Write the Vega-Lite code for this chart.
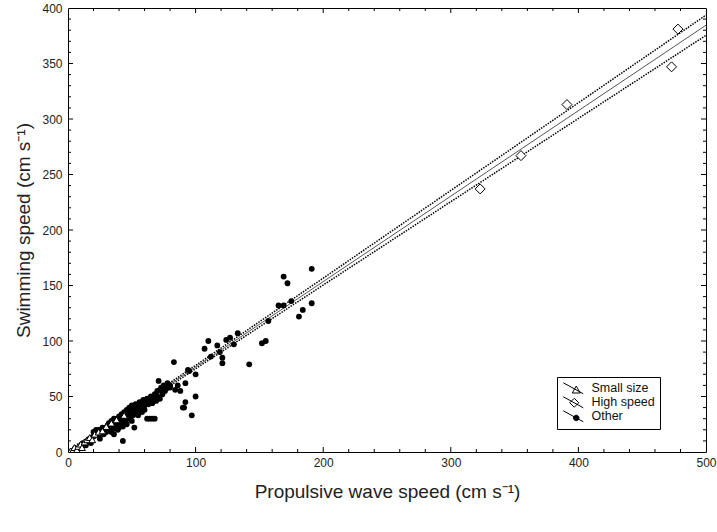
{
  "$schema": "https://vega.github.io/schema/vega-lite/v6.json",
  "width": 638,
  "height": 444,
  "autosize": {"type": "none"},
  "padding": {"left": 68, "top": 8, "right": 11, "bottom": 80},
  "background": "white",
  "config": {
    "view": {"stroke": "black", "strokeWidth": 1},
    "font": "Liberation Sans",
    "tick": {"opacity": 1},
    "axis": {"domain": false, "ticks": false, "grid": false, "labelFont": "Liberation Sans", "titleFont": "Liberation Sans", "labelColor": "#222", "titleColor": "#222", "titleFontWeight": "normal", "labelFontSize": 12, "titleFontSize": 19, "labelFlush": false, "labelOverlap": false}
  },
  "datasets": {
    "ticks": [
      {"ax": "x", "k": "major", "v": 100}, {"ax": "x", "k": "major", "v": 200}, {"ax": "x", "k": "major", "v": 300}, {"ax": "x", "k": "major", "v": 400},
      {"ax": "x", "k": "minor", "v": 20}, {"ax": "x", "k": "minor", "v": 40}, {"ax": "x", "k": "minor", "v": 60}, {"ax": "x", "k": "minor", "v": 80},
      {"ax": "x", "k": "minor", "v": 120}, {"ax": "x", "k": "minor", "v": 140}, {"ax": "x", "k": "minor", "v": 160}, {"ax": "x", "k": "minor", "v": 180},
      {"ax": "x", "k": "minor", "v": 220}, {"ax": "x", "k": "minor", "v": 240}, {"ax": "x", "k": "minor", "v": 260}, {"ax": "x", "k": "minor", "v": 280},
      {"ax": "x", "k": "minor", "v": 320}, {"ax": "x", "k": "minor", "v": 340}, {"ax": "x", "k": "minor", "v": 360}, {"ax": "x", "k": "minor", "v": 380},
      {"ax": "x", "k": "minor", "v": 420}, {"ax": "x", "k": "minor", "v": 440}, {"ax": "x", "k": "minor", "v": 460}, {"ax": "x", "k": "minor", "v": 480},
      {"ax": "y", "k": "major", "v": 50}, {"ax": "y", "k": "major", "v": 100}, {"ax": "y", "k": "major", "v": 150}, {"ax": "y", "k": "major", "v": 200},
      {"ax": "y", "k": "major", "v": 250}, {"ax": "y", "k": "major", "v": 300}, {"ax": "y", "k": "major", "v": 350},
      {"ax": "y", "k": "minor", "v": 10}, {"ax": "y", "k": "minor", "v": 20}, {"ax": "y", "k": "minor", "v": 30}, {"ax": "y", "k": "minor", "v": 40},
      {"ax": "y", "k": "minor", "v": 60}, {"ax": "y", "k": "minor", "v": 70}, {"ax": "y", "k": "minor", "v": 80}, {"ax": "y", "k": "minor", "v": 90},
      {"ax": "y", "k": "minor", "v": 110}, {"ax": "y", "k": "minor", "v": 120}, {"ax": "y", "k": "minor", "v": 130}, {"ax": "y", "k": "minor", "v": 140},
      {"ax": "y", "k": "minor", "v": 160}, {"ax": "y", "k": "minor", "v": 170}, {"ax": "y", "k": "minor", "v": 180}, {"ax": "y", "k": "minor", "v": 190},
      {"ax": "y", "k": "minor", "v": 210}, {"ax": "y", "k": "minor", "v": 220}, {"ax": "y", "k": "minor", "v": 230}, {"ax": "y", "k": "minor", "v": 240},
      {"ax": "y", "k": "minor", "v": 260}, {"ax": "y", "k": "minor", "v": 270}, {"ax": "y", "k": "minor", "v": 280}, {"ax": "y", "k": "minor", "v": 290},
      {"ax": "y", "k": "minor", "v": 310}, {"ax": "y", "k": "minor", "v": 320}, {"ax": "y", "k": "minor", "v": 330}, {"ax": "y", "k": "minor", "v": 340},
      {"ax": "y", "k": "minor", "v": 360}, {"ax": "y", "k": "minor", "v": 370}, {"ax": "y", "k": "minor", "v": 380}, {"ax": "y", "k": "minor", "v": 390}
    ],
    "pts": [
      {"g": "Other", "x": 10, "y": 5}, {"g": "Other", "x": 12, "y": 8}, {"g": "Other", "x": 14, "y": 6}, {"g": "Other", "x": 15, "y": 10},
      {"g": "Other", "x": 17, "y": 12}, {"g": "Other", "x": 18, "y": 8}, {"g": "Other", "x": 20, "y": 14}, {"g": "Other", "x": 20, "y": 18},
      {"g": "Other", "x": 22, "y": 20}, {"g": "Other", "x": 23, "y": 15}, {"g": "Other", "x": 24, "y": 20}, {"g": "Other", "x": 25, "y": 12},
      {"g": "Other", "x": 25, "y": 17}, {"g": "Other", "x": 26, "y": 20}, {"g": "Other", "x": 27, "y": 22}, {"g": "Other", "x": 28, "y": 16},
      {"g": "Other", "x": 29, "y": 20}, {"g": "Other", "x": 30, "y": 22}, {"g": "Other", "x": 30, "y": 18}, {"g": "Other", "x": 31, "y": 24},
      {"g": "Other", "x": 32, "y": 20}, {"g": "Other", "x": 32, "y": 26}, {"g": "Other", "x": 33, "y": 23}, {"g": "Other", "x": 34, "y": 18},
      {"g": "Other", "x": 34, "y": 28}, {"g": "Other", "x": 35, "y": 25}, {"g": "Other", "x": 35, "y": 21}, {"g": "Other", "x": 36, "y": 30},
      {"g": "Other", "x": 36, "y": 16}, {"g": "Other", "x": 37, "y": 27}, {"g": "Other", "x": 37, "y": 22}, {"g": "Other", "x": 38, "y": 24},
      {"g": "Other", "x": 38, "y": 30}, {"g": "Other", "x": 39, "y": 28}, {"g": "Other", "x": 39, "y": 20}, {"g": "Other", "x": 40, "y": 32},
      {"g": "Other", "x": 40, "y": 26}, {"g": "Other", "x": 40, "y": 22}, {"g": "Other", "x": 41, "y": 30}, {"g": "Other", "x": 42, "y": 34},
      {"g": "Other", "x": 42, "y": 27}, {"g": "Other", "x": 43, "y": 10}, {"g": "Other", "x": 43, "y": 23}, {"g": "Other", "x": 44, "y": 30},
      {"g": "Other", "x": 44, "y": 36}, {"g": "Other", "x": 45, "y": 28}, {"g": "Other", "x": 45, "y": 33}, {"g": "Other", "x": 46, "y": 38},
      {"g": "Other", "x": 46, "y": 25}, {"g": "Other", "x": 47, "y": 32}, {"g": "Other", "x": 47, "y": 36}, {"g": "Other", "x": 48, "y": 40},
      {"g": "Other", "x": 48, "y": 30}, {"g": "Other", "x": 49, "y": 35}, {"g": "Other", "x": 50, "y": 38}, {"g": "Other", "x": 50, "y": 42},
      {"g": "Other", "x": 50, "y": 28}, {"g": "Other", "x": 51, "y": 33}, {"g": "Other", "x": 52, "y": 40}, {"g": "Other", "x": 52, "y": 22},
      {"g": "Other", "x": 53, "y": 36}, {"g": "Other", "x": 53, "y": 43}, {"g": "Other", "x": 54, "y": 38}, {"g": "Other", "x": 55, "y": 42},
      {"g": "Other", "x": 55, "y": 33}, {"g": "Other", "x": 56, "y": 45}, {"g": "Other", "x": 56, "y": 38}, {"g": "Other", "x": 57, "y": 40},
      {"g": "Other", "x": 58, "y": 44}, {"g": "Other", "x": 58, "y": 36}, {"g": "Other", "x": 59, "y": 47}, {"g": "Other", "x": 60, "y": 42},
      {"g": "Other", "x": 60, "y": 38}, {"g": "Other", "x": 61, "y": 45}, {"g": "Other", "x": 62, "y": 48}, {"g": "Other", "x": 62, "y": 30},
      {"g": "Other", "x": 63, "y": 43}, {"g": "Other", "x": 64, "y": 30}, {"g": "Other", "x": 64, "y": 46}, {"g": "Other", "x": 65, "y": 50},
      {"g": "Other", "x": 66, "y": 30}, {"g": "Other", "x": 66, "y": 44}, {"g": "Other", "x": 67, "y": 48}, {"g": "Other", "x": 68, "y": 30},
      {"g": "Other", "x": 68, "y": 52}, {"g": "Other", "x": 69, "y": 46}, {"g": "Other", "x": 70, "y": 55}, {"g": "Other", "x": 70, "y": 50},
      {"g": "Other", "x": 71, "y": 64}, {"g": "Other", "x": 72, "y": 56}, {"g": "Other", "x": 72, "y": 48}, {"g": "Other", "x": 73, "y": 58},
      {"g": "Other", "x": 74, "y": 52}, {"g": "Other", "x": 75, "y": 60}, {"g": "Other", "x": 76, "y": 55}, {"g": "Other", "x": 77, "y": 57},
      {"g": "Other", "x": 78, "y": 62}, {"g": "Other", "x": 80, "y": 58}, {"g": "Other", "x": 80, "y": 60}, {"g": "Other", "x": 83, "y": 81},
      {"g": "Other", "x": 84, "y": 56}, {"g": "Other", "x": 86, "y": 60}, {"g": "Other", "x": 88, "y": 55}, {"g": "Other", "x": 90, "y": 40},
      {"g": "Other", "x": 91, "y": 40}, {"g": "Other", "x": 92, "y": 45}, {"g": "Other", "x": 92, "y": 62}, {"g": "Other", "x": 94, "y": 74},
      {"g": "Other", "x": 95, "y": 73}, {"g": "Other", "x": 97, "y": 33}, {"g": "Other", "x": 100, "y": 50}, {"g": "Other", "x": 100, "y": 70},
      {"g": "Other", "x": 107, "y": 93}, {"g": "Other", "x": 110, "y": 100}, {"g": "Other", "x": 112, "y": 86}, {"g": "Other", "x": 117, "y": 96},
      {"g": "Other", "x": 119, "y": 90}, {"g": "Other", "x": 121, "y": 80}, {"g": "Other", "x": 121, "y": 85}, {"g": "Other", "x": 124, "y": 101},
      {"g": "Other", "x": 127, "y": 103}, {"g": "Other", "x": 130, "y": 97}, {"g": "Other", "x": 133, "y": 107}, {"g": "Other", "x": 142, "y": 79},
      {"g": "Other", "x": 152, "y": 98}, {"g": "Other", "x": 155, "y": 100}, {"g": "Other", "x": 157, "y": 118}, {"g": "Other", "x": 165, "y": 132},
      {"g": "Other", "x": 169, "y": 132}, {"g": "Other", "x": 172, "y": 152}, {"g": "Other", "x": 169, "y": 158}, {"g": "Other", "x": 175, "y": 136},
      {"g": "Other", "x": 181, "y": 122}, {"g": "Other", "x": 184, "y": 128}, {"g": "Other", "x": 191, "y": 134}, {"g": "Other", "x": 191, "y": 165},
      {"g": "Small size", "x": 2, "y": 1}, {"g": "Small size", "x": 4, "y": 2}, {"g": "Small size", "x": 5, "y": 4}, {"g": "Small size", "x": 7, "y": 2},
      {"g": "Small size", "x": 8, "y": 5}, {"g": "Small size", "x": 10, "y": 7}, {"g": "Small size", "x": 11, "y": 4}, {"g": "Small size", "x": 13, "y": 9},
      {"g": "Small size", "x": 15, "y": 11}, {"g": "Small size", "x": 17, "y": 13}, {"g": "Small size", "x": 19, "y": 11}, {"g": "Small size", "x": 21, "y": 16},
      {"g": "Small size", "x": 24, "y": 18}, {"g": "Small size", "x": 27, "y": 19}, {"g": "Small size", "x": 30, "y": 23}, {"g": "Small size", "x": 34, "y": 26},
      {"g": "Small size", "x": 38, "y": 29}, {"g": "Small size", "x": 44, "y": 33},
      {"g": "High speed", "x": 323, "y": 237}, {"g": "High speed", "x": 355, "y": 267}, {"g": "High speed", "x": 391, "y": 313},
      {"g": "High speed", "x": 473, "y": 347}, {"g": "High speed", "x": 478, "y": 381}
    ],
    "fit": [
      {"line": "fit", "x": 0, "y": -0.5}, {"line": "fit", "x": 500, "y": 384.5},
      {"line": "upper", "x": 0, "y": 1.2}, {"line": "upper", "x": 50, "y": 39.2}, {"line": "upper", "x": 100, "y": 78}, {"line": "upper", "x": 200, "y": 156.6},
      {"line": "upper", "x": 300, "y": 235.6}, {"line": "upper", "x": 400, "y": 314.6}, {"line": "upper", "x": 500, "y": 393.6},
      {"line": "lower", "x": 0, "y": -2.2}, {"line": "lower", "x": 50, "y": 36.8}, {"line": "lower", "x": 100, "y": 75}, {"line": "lower", "x": 200, "y": 150.4},
      {"line": "lower", "x": 300, "y": 225.5}, {"line": "lower", "x": 400, "y": 300.5}, {"line": "lower", "x": 500, "y": 375.4}
    ]
  },
  "resolve": {"axis": {"x": "independent", "y": "independent"}},
  "layer": [
    {
      "data": {"name": "fit"},
      "transform": [{"filter": "datum.line === 'fit'"}],
      "mark": {"type": "line", "clip": true, "color": "#555", "strokeWidth": 1},
      "encoding": {
        "x": {"field": "x", "type": "quantitative", "scale": {"domain": [0, 500], "nice": false},
          "axis": {"orient": "bottom", "values": [0, 100, 200, 300, 400, 500], "format": "d", "labelPadding": 5, "title": "Propulsive wave speed (cm s⁻¹)", "titlePadding": 14}},
        "y": {"field": "y", "type": "quantitative", "scale": {"domain": [0, 400], "nice": false},
          "axis": {"orient": "left", "values": [0, 50, 100, 150, 200, 250, 300, 350, 400], "format": "d", "labelPadding": 6, "title": "Swimming speed (cm s⁻¹)", "titlePadding": 8}}
      }
    },
    {
      "data": {"name": "fit"},
      "transform": [{"filter": "datum.line === 'upper'"}],
      "mark": {"type": "line", "clip": true, "color": "black", "strokeWidth": 1.5, "strokeDash": [1.5, 1.2]},
      "encoding": {
        "x": {"field": "x", "type": "quantitative", "scale": {"domain": [0, 500], "nice": false}, "axis": null},
        "y": {"field": "y", "type": "quantitative", "scale": {"domain": [0, 400], "nice": false}, "axis": null}
      }
    },
    {
      "data": {"name": "fit"},
      "transform": [{"filter": "datum.line === 'lower'"}],
      "mark": {"type": "line", "clip": true, "color": "black", "strokeWidth": 1.5, "strokeDash": [1.5, 1.2]},
      "encoding": {
        "x": {"field": "x", "type": "quantitative", "scale": {"domain": [0, 500], "nice": false}, "axis": null},
        "y": {"field": "y", "type": "quantitative", "scale": {"domain": [0, 400], "nice": false}, "axis": null}
      }
    },
    {
      "data": {"name": "ticks"},
      "transform": [{"filter": "datum.ax === 'x' && datum.k === 'major'"}],
      "mark": {"type": "tick", "orient": "vertical", "size": 5, "thickness": 1, "color": "black", "opacity": 1},
      "encoding": {
        "x": {"field": "v", "type": "quantitative", "scale": {"domain": [0, 500], "nice": false}, "axis": null},
        "y": {"datum": 2.25, "type": "quantitative", "scale": {"domain": [0, 400], "nice": false}, "axis": null}
      }
    },
    {
      "data": {"name": "ticks"},
      "transform": [{"filter": "datum.ax === 'x' && datum.k === 'major'"}],
      "mark": {"type": "tick", "orient": "vertical", "size": 5, "thickness": 1, "color": "black", "opacity": 1},
      "encoding": {
        "x": {"field": "v", "type": "quantitative", "scale": {"domain": [0, 500], "nice": false}, "axis": null},
        "y": {"datum": 397.75, "type": "quantitative", "scale": {"domain": [0, 400], "nice": false}, "axis": null}
      }
    },
    {
      "data": {"name": "ticks"},
      "transform": [{"filter": "datum.ax === 'x' && datum.k === 'minor'"}],
      "mark": {"type": "tick", "orient": "vertical", "size": 3, "thickness": 1, "color": "black", "opacity": 1},
      "encoding": {
        "x": {"field": "v", "type": "quantitative", "scale": {"domain": [0, 500], "nice": false}, "axis": null},
        "y": {"datum": 1.35, "type": "quantitative", "scale": {"domain": [0, 400], "nice": false}, "axis": null}
      }
    },
    {
      "data": {"name": "ticks"},
      "transform": [{"filter": "datum.ax === 'x' && datum.k === 'minor'"}],
      "mark": {"type": "tick", "orient": "vertical", "size": 3, "thickness": 1, "color": "black", "opacity": 1},
      "encoding": {
        "x": {"field": "v", "type": "quantitative", "scale": {"domain": [0, 500], "nice": false}, "axis": null},
        "y": {"datum": 398.65, "type": "quantitative", "scale": {"domain": [0, 400], "nice": false}, "axis": null}
      }
    },
    {
      "data": {"name": "ticks"},
      "transform": [{"filter": "datum.ax === 'y' && datum.k === 'major'"}],
      "mark": {"type": "tick", "orient": "horizontal", "size": 5, "thickness": 1, "color": "black", "opacity": 1},
      "encoding": {
        "y": {"field": "v", "type": "quantitative", "scale": {"domain": [0, 400], "nice": false}, "axis": null},
        "x": {"datum": 1.96, "type": "quantitative", "scale": {"domain": [0, 500], "nice": false}, "axis": null}
      }
    },
    {
      "data": {"name": "ticks"},
      "transform": [{"filter": "datum.ax === 'y' && datum.k === 'major'"}],
      "mark": {"type": "tick", "orient": "horizontal", "size": 5, "thickness": 1, "color": "black", "opacity": 1},
      "encoding": {
        "y": {"field": "v", "type": "quantitative", "scale": {"domain": [0, 400], "nice": false}, "axis": null},
        "x": {"datum": 498.04, "type": "quantitative", "scale": {"domain": [0, 500], "nice": false}, "axis": null}
      }
    },
    {
      "data": {"name": "ticks"},
      "transform": [{"filter": "datum.ax === 'y' && datum.k === 'minor'"}],
      "mark": {"type": "tick", "orient": "horizontal", "size": 3, "thickness": 1, "color": "black", "opacity": 1},
      "encoding": {
        "y": {"field": "v", "type": "quantitative", "scale": {"domain": [0, 400], "nice": false}, "axis": null},
        "x": {"datum": 1.18, "type": "quantitative", "scale": {"domain": [0, 500], "nice": false}, "axis": null}
      }
    },
    {
      "data": {"name": "ticks"},
      "transform": [{"filter": "datum.ax === 'y' && datum.k === 'minor'"}],
      "mark": {"type": "tick", "orient": "horizontal", "size": 3, "thickness": 1, "color": "black", "opacity": 1},
      "encoding": {
        "y": {"field": "v", "type": "quantitative", "scale": {"domain": [0, 400], "nice": false}, "axis": null},
        "x": {"datum": 498.82, "type": "quantitative", "scale": {"domain": [0, 500], "nice": false}, "axis": null}
      }
    },
    {
      "data": {"name": "pts"},
      "transform": [{"filter": "datum.g === 'Other'"}],
      "mark": {"type": "point", "shape": "circle", "filled": true, "clip": true, "color": "black", "size": 34, "opacity": 1},
      "encoding": {
        "x": {"field": "x", "type": "quantitative", "scale": {"domain": [0, 500], "nice": false}, "axis": null},
        "y": {"field": "y", "type": "quantitative", "scale": {"domain": [0, 400], "nice": false}, "axis": null}
      }
    },
    {
      "data": {"name": "pts"},
      "transform": [{"filter": "datum.g === 'Small size'"}],
      "mark": {"type": "point", "shape": "triangle-up", "clip": true, "fill": "white", "fillOpacity": 1, "stroke": "black", "strokeWidth": 1, "opacity": 1, "size": 45},
      "encoding": {
        "x": {"field": "x", "type": "quantitative", "scale": {"domain": [0, 500], "nice": false}, "axis": null},
        "y": {"field": "y", "type": "quantitative", "scale": {"domain": [0, 400], "nice": false}, "axis": null}
      }
    },
    {
      "data": {"name": "pts"},
      "transform": [{"filter": "datum.g === 'High speed'"}],
      "mark": {"type": "point", "shape": "diamond", "clip": true, "fill": "white", "fillOpacity": 1, "stroke": "black", "strokeWidth": 1, "opacity": 1, "size": 100},
      "encoding": {
        "x": {"field": "x", "type": "quantitative", "scale": {"domain": [0, 500], "nice": false}, "axis": null},
        "y": {"field": "y", "type": "quantitative", "scale": {"domain": [0, 400], "nice": false}, "axis": null}
      }
    },
    {
      "data": {"name": "pts"},
      "mark": {"type": "point", "clip": true, "opacity": 0, "strokeWidth": 1},
      "encoding": {
        "x": {"field": "x", "type": "quantitative", "scale": {"domain": [0, 500], "nice": false}, "axis": null},
        "y": {"field": "y", "type": "quantitative", "scale": {"domain": [0, 400], "nice": false}, "axis": null},
        "shape": {"field": "g", "type": "nominal",
          "scale": {"domain": ["Small size", "High speed", "Other"], "range": ["M-2,-1.1L2,1.1M0.6,-0.45L1.4,0.95L-0.2,0.95Z", "M-2,-1.1L2,1.1M0.2,-0.8L1.1,0.1L0.2,1L-0.7,0.1Z", "M-2,-1.1L2,1.1M1.15,0.33A0.55,0.55,0,1,1,0.05,0.33A0.55,0.55,0,1,1,1.15,0.33Z"]},
          "legend": {"title": null, "orient": "none", "legendX": 489, "legendY": 369, "strokeColor": "black", "padding": 5, "symbolSize": 100, "symbolOpacity": 1, "symbolStrokeWidth": 1, "symbolOffset": 5, "labelOffset": 12, "labelFontSize": 12.5, "labelColor": "#111", "labelFont": "Liberation Sans", "rowPadding": -3, "fillColor": "white"}},
        "fill": {"field": "g", "type": "nominal",
          "scale": {"domain": ["Small size", "High speed", "Other"], "range": ["white", "white", "black"]},
          "legend": {"title": null, "orient": "none", "legendX": 489, "legendY": 369, "strokeColor": "black", "padding": 5, "symbolSize": 100, "symbolOpacity": 1, "symbolStrokeWidth": 1, "symbolOffset": 5, "labelOffset": 12, "labelFontSize": 12.5, "labelColor": "#111", "labelFont": "Liberation Sans", "rowPadding": -3, "fillColor": "white"}},
        "stroke": {"field": "g", "type": "nominal",
          "scale": {"domain": ["Small size", "High speed", "Other"], "range": ["black", "black", "black"]},
          "legend": {"title": null, "orient": "none", "legendX": 489, "legendY": 369, "strokeColor": "black", "padding": 5, "symbolSize": 100, "symbolOpacity": 1, "symbolStrokeWidth": 1, "symbolOffset": 5, "labelOffset": 12, "labelFontSize": 12.5, "labelColor": "#111", "labelFont": "Liberation Sans", "rowPadding": -3, "fillColor": "white"}}
      }
    }
  ]
}
